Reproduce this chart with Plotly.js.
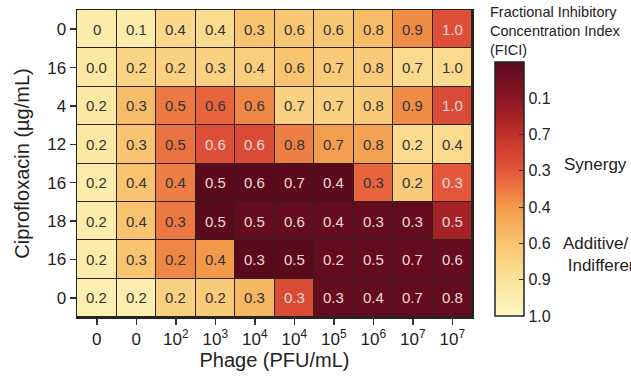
<!DOCTYPE html>
<html>
<head>
<meta charset="utf-8">
<script src="https://cdn.plot.ly/plotly-3.0.1.min.js"></script>
<style>html,body{margin:0;padding:0;background:#fff;overflow:hidden}#chart{width:631px;height:377px}</style>
</head>
<body>
<div id="chart"></div>
<script>
// Column (phage) tick labels
const phageLabels = ["0", "0", "10<sup>2</sup>", "10<sup>3</sup>", "10<sup>4</sup>", "10<sup>4</sup>", "10<sup>5</sup>", "10<sup>6</sup>", "10<sup>7</sup>", "10<sup>7</sup>"];
// Row (ciprofloxacin) tick labels, top to bottom
const ciproLabels = ["0", "16", "4", "12", "16", "18", "16", "0"];
// FICI values printed in cells (top row first)
const ficiText = [
  ["0", "0.1", "0.4", "0.4", "0.3", "0.6", "0.6", "0.8", "0.9", "1.0"],
  ["0.0", "0.2", "0.2", "0.3", "0.4", "0.6", "0.7", "0.8", "0.7", "1.0"],
  ["0.2", "0.3", "0.5", "0.6", "0.6", "0.7", "0.7", "0.8", "0.9", "1.0"],
  ["0.2", "0.3", "0.5", "0.6", "0.6", "0.8", "0.7", "0.8", "0.2", "0.4"],
  ["0.2", "0.4", "0.4", "0.5", "0.6", "0.7", "0.4", "0.3", "0.2", "0.3"],
  ["0.2", "0.4", "0.3", "0.5", "0.5", "0.6", "0.4", "0.3", "0.3", "0.5"],
  ["0.2", "0.3", "0.2", "0.4", "0.3", "0.5", "0.2", "0.5", "0.7", "0.6"],
  ["0.2", "0.2", "0.2", "0.2", "0.3", "0.3", "0.3", "0.4", "0.7", "0.8"]
];
// Colour intensity level of each cell (0 = palest, 7 = darkest)
const colourLevel = [
  [0.6, 0.6, 1.4, 1.3, 2.0, 1.9, 1.9, 2.2, 3.2, 4.2],
  [0.8, 1.5, 1.6, 1.6, 1.7, 2.0, 1.8, 1.8, 1.3, 1.3],
  [0.8, 2.2, 3.5, 3.8, 3.3, 1.6, 1.6, 1.8, 3.2, 4.3],
  [0.8, 2.0, 3.6, 4.2, 4.3, 3.4, 2.9, 2.8, 1.3, 1.3],
  [0.6, 2.0, 3.4, 7.0, 7.0, 7.0, 7.0, 3.8, 1.8, 4.0],
  [0.6, 2.0, 3.5, 7.0, 6.8, 6.8, 6.8, 6.8, 6.8, 5.5],
  [0.6, 2.0, 3.3, 3.0, 7.0, 7.0, 6.8, 6.8, 6.8, 6.8],
  [0.4, 0.5, 1.6, 1.8, 2.3, 4.3, 6.8, 6.8, 6.8, 6.8]
];
// Colour bar tick labels, bottom to top
const cbarLabels = ["1.0", "0.9", "0.6", "0.4", "0.3", "0.7", "0.1"];

const FONT = "Liberation Sans, Arial, sans-serif";
const xIdx = phageLabels.map((_, i) => i);
const yIdx = ciproLabels.map((_, i) => i);
const cbarVals = cbarLabels.map((_, i) => i);

// plot area in pixels (for converting pixel placements of side texts to paper fractions)
const M = {l: 77, r: 159, t: 10, b: 60};
const W = 631, H = 377;
const PW = W - M.l - M.r, PH = H - M.t - M.b;
const px = v => (v - M.l) / PW;
const py = v => (H - M.b - v) / PH;

const colorscale = [
  [0, "#fdf7c2"],
  [1/7, "#fbe49a"],
  [2/7, "#f8c470"],
  [3/7, "#f29a4a"],
  [4/7, "#e5573a"],
  [5/7, "#c0302a"],
  [6/7, "#8a1624"],
  [1, "#5a0a1c"]
];

const trace = {
  type: "heatmap",
  x: xIdx,
  y: yIdx,
  z: colourLevel,
  zmin: 0,
  zmax: 7,
  colorscale: colorscale,
  xgap: 1,
  ygap: 1,
  hoverinfo: "skip",
  colorbar: {
    x: px(495),
    xanchor: "left",
    y: py(189),
    yanchor: "middle",
    len: 254,
    lenmode: "pixels",
    thickness: 29,
    outlinecolor: "#222",
    outlinewidth: 1.5,
    tickmode: "array",
    tickvals: cbarVals,
    ticktext: cbarLabels,
    ticks: "inside",
    ticklen: 5,
    tickcolor: "#333",
    tickfont: {family: FONT, size: 16, color: "#222"},
    xpad: 0,
    ypad: 0
  }
};

const annotations = [];
ficiText.forEach((row, r) => {
  row.forEach((t, c) => {
    annotations.push({
      x: xIdx[c], y: yIdx[r], xref: "x", yref: "y",
      text: t, showarrow: false,
      font: {family: FONT, size: 15, color: colourLevel[r][c] >= 4 ? "#f4d8d8" : "#333333"}
    });
  });
});
annotations.push({
  xref: "paper", yref: "paper", x: px(488), y: py(2), xanchor: "left", yanchor: "top",
  align: "left", showarrow: false,
  text: "Fractional Inhibitory<br>Concentration Index<br>(FICI)",
  font: {family: FONT, size: 14.5, color: "#222"}
});
annotations.push({
  xref: "paper", yref: "paper", x: px(562), y: py(164), xanchor: "left", yanchor: "middle",
  showarrow: false, text: "Synergy",
  font: {family: FONT, size: 17, color: "#222"}
});
annotations.push({
  xref: "paper", yref: "paper", x: px(561), y: py(254), xanchor: "left", yanchor: "middle",
  showarrow: false, align: "left", text: "Additive/<br> Indifference",
  font: {family: FONT, size: 17, color: "#222"}
});

const layout = {
  width: W,
  height: H,
  margin: M,
  paper_bgcolor: "#ffffff",
  plot_bgcolor: "#2e221c",
  font: {family: FONT, color: "#222"},
  showlegend: false,
  xaxis: {
    tickmode: "array",
    tickvals: xIdx,
    ticktext: phageLabels,
    ticks: "outside",
    ticklen: 6,
    tickwidth: 1.5,
    tickcolor: "#333",
    tickfont: {family: FONT, size: 17, color: "#222"},
    showgrid: false,
    zeroline: false,
    showline: true,
    linecolor: "#222",
    linewidth: 1.5,
    mirror: true,
    range: [-0.5, xIdx.length - 0.5],
    title: {text: "Phage (PFU/mL)", font: {family: FONT, size: 20, color: "#222"}, standoff: 5}
  },
  yaxis: {
    tickmode: "array",
    tickvals: yIdx,
    ticktext: ciproLabels,
    ticks: "outside",
    ticklen: 6,
    tickwidth: 1.5,
    tickcolor: "#333",
    tickfont: {family: FONT, size: 17, color: "#222"},
    showgrid: false,
    zeroline: false,
    showline: true,
    linecolor: "#222",
    linewidth: 1.5,
    mirror: true,
    range: [yIdx.length - 0.5, -0.5],
    title: {text: "Ciprofloxacin (µg/mL)", font: {family: FONT, size: 20, color: "#222"}, standoff: 12}
  },
  annotations: annotations
};

Plotly.newPlot("chart", [trace], layout, {displayModeBar: false, staticPlot: true});
</script>
</body>
</html>
